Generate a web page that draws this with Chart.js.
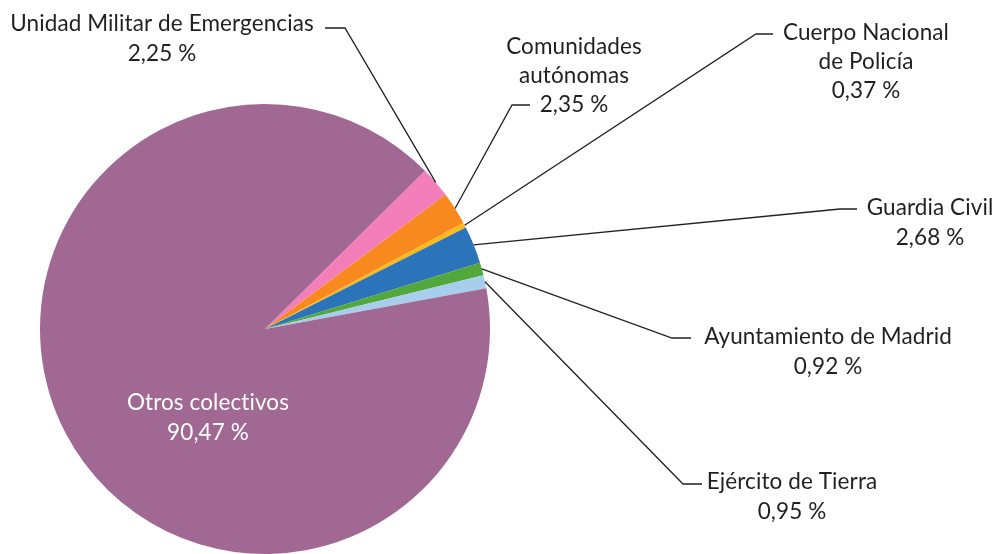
<!DOCTYPE html>
<html>
<head>
<meta charset="utf-8">
<script src="https://cdn.jsdelivr.net/npm/chart.js@4.4.0/dist/chart.umd.min.js"></script>
<style>
  html, body { margin: 0; padding: 0; background: #fff; }
  #wrap { width: 997px; height: 554px; }
</style>
</head>
<body>
<div id="wrap"><canvas id="pieChart" width="997" height="554"></canvas></div>
<script>
// Colectivos y porcentajes (en el orden del gráfico, sentido horario)
const labels = [
  'Unidad Militar de Emergencias',
  'Comunidades autónomas',
  'Cuerpo Nacional de Policía',
  'Guardia Civil',
  'Ayuntamiento de Madrid',
  'Ejército de Tierra',
  'Otros colectivos'
];
const values = [2.25, 2.35, 0.37, 2.68, 0.92, 0.95, 90.47];
const colors = ['#F47EB9', '#F7891F', '#FCB918', '#2B74BA', '#52A83C', '#A7CEEC', '#A06892'];

// Texto de cada etiqueta (líneas) y su colocación
const labelLines = [
  ['Unidad Militar de Emergencias', '2,25 %'],
  ['Comunidades', 'autónomas', '2,35 %'],
  ['Cuerpo Nacional', 'de Policía', '0,37 %'],
  ['Guardia Civil', '2,68 %'],
  ['Ayuntamiento de Madrid', '0,92 %'],
  ['Ejército de Tierra', '0,95 %'],
  ['Otros colectivos', '90,47 %']
];
// codo de la línea guía [x, y], fin del trazo horizontal, centro del texto, y de la primera línea
const elbows   = [[345, 28], [512, 105], [756, 34], [840, 209], [672, 338], [683, 484], null];
const stubEnds = [325, 530, 773, 857, 691, 702, null];
const textX    = [162, 574, 866, 930, 828, 792, 208];
const textY    = [24, 47, 33, 208, 337, 482, 403];

const fmt = v => v.toFixed(2).replace('.', ',') + ' %';

const labelPlugin = {
  id: 'pieLabels',
  afterDatasetsDraw(chart) {
    const ctx = chart.ctx;
    const arcs = chart.getDatasetMeta(0).data;
    ctx.save();
    ctx.font = '22.5px "Lato", sans-serif';
    ctx.letterSpacing = '0.1px'; // evita las ligaduras de Lato
    ctx.textAlign = 'center';
    ctx.textBaseline = 'middle';
    arcs.forEach((arc, i) => {
      const { x, y, startAngle, endAngle, outerRadius } = arc.getProps(['x', 'y', 'startAngle', 'endAngle', 'outerRadius'], true);
      if (elbows[i]) {
        const mid = (startAngle + endAngle) / 2;
        const sx = x + Math.cos(mid) * outerRadius;
        const sy = y + Math.sin(mid) * outerRadius;
        ctx.strokeStyle = '#231F20';
        ctx.lineWidth = 1.3;
        ctx.beginPath();
        ctx.moveTo(sx, sy);
        ctx.lineTo(elbows[i][0], elbows[i][1]);
        ctx.lineTo(stubEnds[i], elbows[i][1]);
        ctx.stroke();
        ctx.fillStyle = '#231F20';
      } else {
        ctx.fillStyle = '#ffffff';
      }
      const gap = labelLines[i].length > 2 ? 29 : 29.5;
      labelLines[i].forEach((line, j) => {
        ctx.fillText(line, textX[i], textY[i] + j * gap);
      });
    });
    ctx.restore();
  }
};

new Chart(document.getElementById('pieChart'), {
  type: 'pie',
  data: {
    labels: labels,
    datasets: [{
      data: values,
      backgroundColor: colors,
      borderWidth: 0
    }]
  },
  options: {
    responsive: false,
    animation: false,
    rotation: 45.3,
    layout: { padding: { left: 40, right: 507, top: 104, bottom: 0 } },
    plugins: {
      legend: { display: false },
      tooltip: {
        callbacks: { label: item => item.label + ': ' + fmt(item.raw) }
      }
    }
  },
  plugins: [labelPlugin]
});
</script>
</body>
</html>
